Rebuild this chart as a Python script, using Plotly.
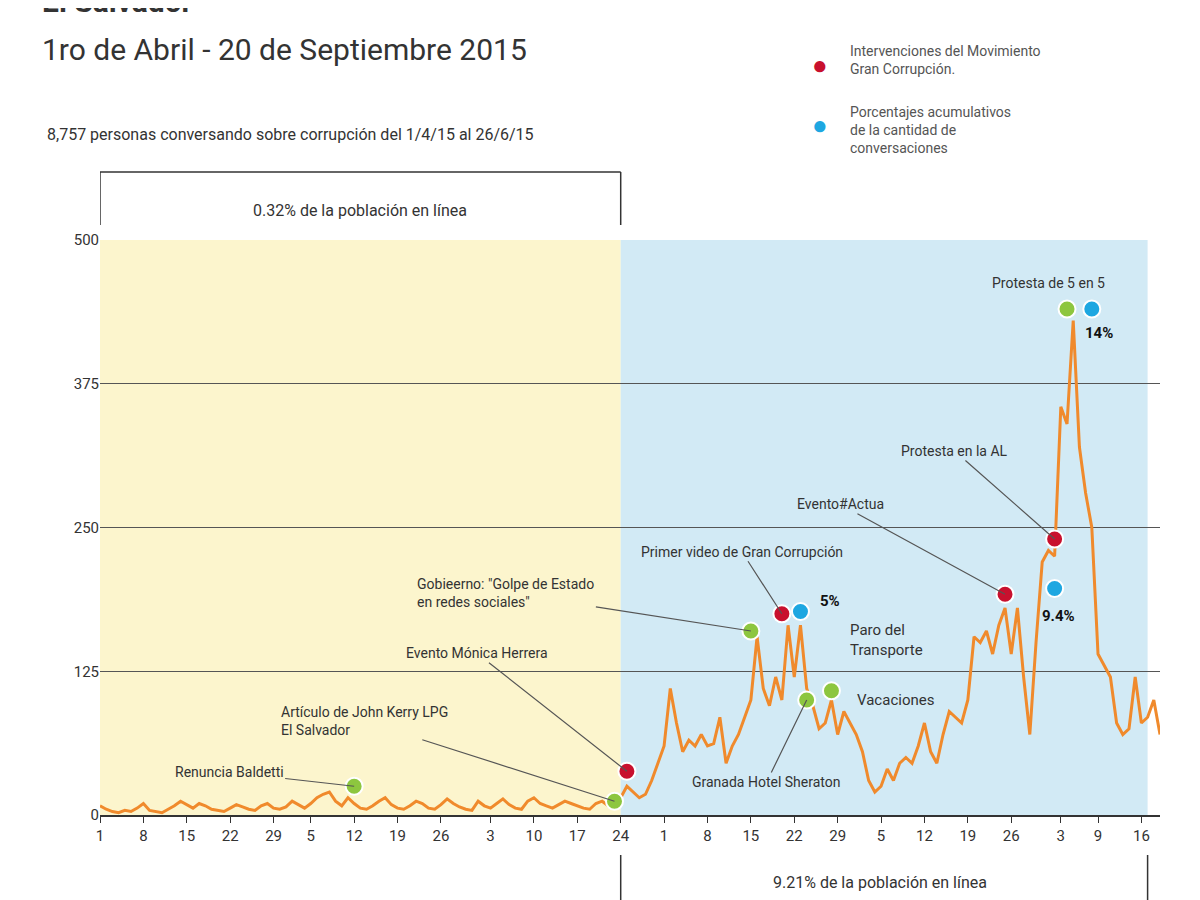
import pandas as pd
import plotly.graph_objects as go

# daily conversation counts, 1 Apr - 19 Sep 2015
abril = [8, 5, 3, 2, 4, 3, 6, 10, 4, 3, 2, 5, 8, 12, 9, 6, 10, 8, 5, 4, 3, 6, 9, 7, 5, 4, 8, 10, 6, 5]
mayo = [7, 12, 9, 6, 10, 15, 18, 20, 12, 8, 15, 10, 6, 5, 8, 12, 15, 9, 6, 5, 8, 12, 10, 6, 5, 9, 14, 10, 7, 5, 4]
junio = [12, 8, 6, 10, 14, 9, 6, 5, 12, 15, 10, 8, 6, 9, 12, 10, 8, 6, 5, 10, 12, 8, 10, 15, 25, 20, 15, 18, 30, 45]
julio = [60, 110, 80, 55, 65, 60, 70, 60, 62, 85, 45, 60, 70, 85, 100, 155, 110, 95, 120, 100, 165, 120, 165, 110,
         95, 75, 80, 100, 70, 90, 80]
agosto = [70, 55, 30, 20, 25, 40, 30, 45, 50, 45, 60, 80, 55, 45, 70, 90, 85, 80, 100, 155, 150, 160, 140, 165, 180,
          140, 180, 120, 70, 150, 220]
septiembre = [230, 225, 355, 340, 430, 320, 280, 250, 140, 130, 120, 80, 70, 75, 120, 80, 85, 100, 70]
valores = abril + mayo + junio + julio + agosto + septiembre
fechas = pd.date_range("2015-04-01", periods=len(valores), freq="D")

tick_fechas = ["2015-04-01", "2015-04-08", "2015-04-15", "2015-04-22", "2015-04-29", "2015-05-05", "2015-05-12",
               "2015-05-19", "2015-05-26", "2015-06-03", "2015-06-10", "2015-06-17", "2015-06-24", "2015-07-01",
               "2015-07-08", "2015-07-15", "2015-07-22", "2015-07-29", "2015-08-05", "2015-08-12", "2015-08-19",
               "2015-08-26", "2015-09-03", "2015-09-09", "2015-09-16"]
tick_text = ["1", "8", "15", "22", "29", "5", "12", "19", "26", "3", "10", "17", "24", "1", "8", "15", "22", "29",
             "5", "12", "19", "26", "3", "9", "16"]

verdes_x = ["2015-05-12", "2015-06-23", "2015-07-15", "2015-07-24", "2015-07-28", "2015-09-04"]
verdes_y = [25, 12, 160, 100, 108, 440]
rojos_x = ["2015-06-25", "2015-07-20", "2015-08-25", "2015-09-02"]
rojos_y = [38, 175, 192, 240]
azules_x = ["2015-07-23", "2015-09-02", "2015-09-08"]
azules_y = [177, 197, 440]

FONT = "Roboto"
DARK = "#333333"
NAR = "#f08a2c"


def P(xp, yp):
    return (xp - 100) / 1060, (815 - yp) / 575


fig = go.Figure()
fig.add_trace(go.Scatter(x=fechas, y=valores, mode="lines", line=dict(color=NAR, width=3), hoverinfo="skip"))
for xs, ys, c in [(verdes_x, verdes_y, "#8dc63f"), (rojos_x, rojos_y, "#c8102e"), (azules_x, azules_y, "#1ea7e1")]:
    fig.add_trace(go.Scatter(x=xs, y=ys, mode="markers",
                             marker=dict(size=17, color=c, line=dict(color="white", width=2))))

shapes = [
    dict(type="rect", xref="x", yref="y", x0="2015-04-01", x1="2015-06-24", y0=0, y1=500,
         fillcolor="#fcf5cd", line_width=0, layer="below"),
    dict(type="rect", xref="x", yref="y", x0="2015-06-24", x1="2015-09-17", y0=0, y1=500,
         fillcolor="#d2eaf5", line_width=0, layer="below"),
]
# top bracket
y_b = P(0, 172)[1]
y_b2 = P(0, 225)[1]
for x0 in ["2015-04-01", "2015-06-24"]:
    shapes.append(dict(type="line", xref="x", yref="paper", x0=x0, x1=x0, y0=y_b, y1=y_b2,
                       line=dict(color=DARK, width=1.5)))
shapes.append(dict(type="line", xref="x", yref="paper", x0="2015-04-01", x1="2015-06-24", y0=y_b, y1=y_b,
                   line=dict(color=DARK, width=1.5)))
# bottom bracket
for x0 in ["2015-06-24", "2015-09-17"]:
    shapes.append(dict(type="line", xref="x", yref="paper", x0=x0, x1=x0, y0=P(0, 855)[1], y1=P(0, 900)[1],
                       line=dict(color=DARK, width=1.5)))

ann = []


def txt(xp, yp, t, size=15, xanchor="left", bold=False, color=DARK):
    x, y = P(xp, yp)
    ann.append(dict(x=x, y=y, xref="paper", yref="paper", text=f"<b>{t}</b>" if bold else t, showarrow=False,
                    xanchor=xanchor, yanchor="middle", align="left", font=dict(family=FONT, size=size, color=color)))


def lab(xd, yv, t, ax, ay):
    ann.append(dict(x=xd, y=yv, xref="x", yref="y", text=t, showarrow=True, arrowhead=0, arrowwidth=1.2,
                    arrowcolor="#555", ax=ax, ay=ay, align="left", font=dict(family=FONT, size=14, color=DARK)))


txt(40, 2, "<b>El Salvador</b>", size=30)
txt(40, 50, "1ro de Abril - 20 de Septiembre 2015", size=30)
txt(45, 135, "8,757 personas conversando sobre corrupción del 1/4/15 al 26/6/15", size=16)
txt(360, 210, "0.32% de la población en línea", size=16, xanchor="center")
txt(880, 882, "9.21% de la población en línea", size=16, xanchor="center")
txt(848, 60, "Intervenciones del Movimiento<br>Gran Corrupción.", size=14, color="#555")
txt(848, 130, "Porcentajes acumulativos<br>de la cantidad de<br>conversaciones", size=14, color="#555")
ann.append(dict(x=P(830, 48)[0], y=P(830, 48)[1], xref="paper", yref="paper", text="●", showarrow=False,
                font=dict(size=26, color="#c8102e")))
ann.append(dict(x=P(830, 108)[0], y=P(830, 108)[1], xref="paper", yref="paper", text="●", showarrow=False,
                font=dict(size=26, color="#1ea7e1")))

lab("2015-05-12", 25, "Renuncia Baldetti", -125, -14)
lab("2015-06-23", 12, "Artículo de John Kerry LPG<br>El Salvador", -250, -80)
lab("2015-06-25", 38, "Evento Mónica Herrera", -150, -118)
lab("2015-07-15", 160, "Gobieerno: \"Golpe de Estado<br>en redes sociales\"", -245, -38)
lab("2015-07-20", 175, "Primer video de Gran Corrupción", -40, -62)
lab("2015-07-24", 100, "Granada Hotel Sheraton", -40, 82)
lab("2015-08-25", 192, "Evento#Actua", -165, -90)
lab("2015-09-02", 240, "Protesta en la AL", -100, -88)
txt(848, 640, "Paro del<br>Transporte", size=15)
txt(855, 700, "Vacaciones", size=15)
txt(990, 283, "Protesta de 5 en 5", size=14)
txt(818, 601, "5%", size=15, bold=True, color="#111")
txt(1040, 616, "9.4%", size=15, bold=True, color="#111")
txt(1083, 333, "14%", size=15, bold=True, color="#111")

fig.update_layout(
    width=1200, height=900, margin=dict(l=92, r=48, t=232, b=93),
    paper_bgcolor="white", plot_bgcolor="white", showlegend=False,
    shapes=shapes, annotations=ann, font=dict(family=FONT, color=DARK),
    xaxis=dict(range=["2015-04-01", "2015-09-19"], tickvals=tick_fechas, ticktext=tick_text,
               showgrid=False, ticks="outside", ticklen=6, tickcolor=DARK, tickfont=dict(size=15),
               showline=True, linecolor=DARK, linewidth=2),
    yaxis=dict(range=[0, 500], tickvals=[0, 125, 250, 375, 500], showgrid=True, gridcolor="#555",
               gridwidth=1, zeroline=True, zerolinecolor=DARK, zerolinewidth=2, tickfont=dict(size=15),
               ticksuffix="  "),
)
fig.write_html("out.html")
